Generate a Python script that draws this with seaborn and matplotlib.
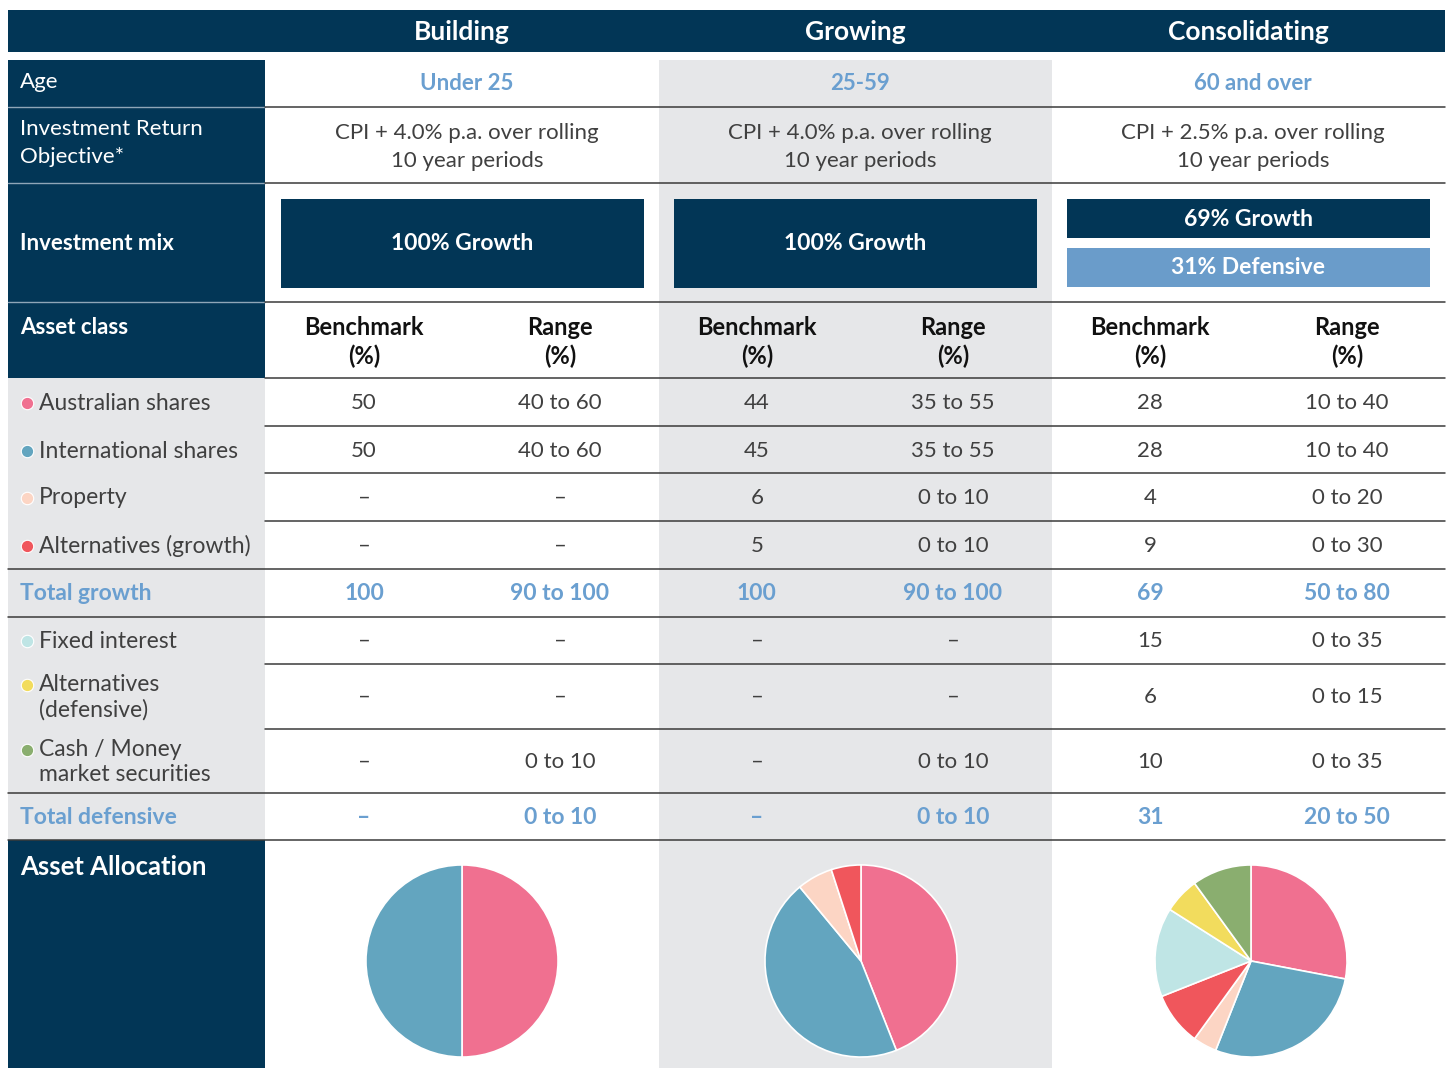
import numpy as np
import matplotlib.pyplot as plt
import matplotlib.patches as mpatches
import seaborn as sns

# Data
stages = ['Building', 'Growing', 'Consolidating']
ages = ['Under 25', '25-59', '60 and over']
objectives = ['CPI + 4.0% p.a. over rolling\n10 year periods',
              'CPI + 4.0% p.a. over rolling\n10 year periods',
              'CPI + 2.5% p.a. over rolling\n10 year periods']
growth_mix = [100, 100, 69]
defensive_mix = [0, 0, 31]

growth_assets = ['Australian shares', 'International shares', 'Property', 'Alternatives (growth)']
defensive_assets = ['Fixed interest', 'Alternatives\n(defensive)', 'Cash / Money\nmarket securities']

building_bench = [50, 50, 0, 0, 0, 0, 0]
growing_bench = [44, 45, 6, 5, 0, 0, 0]
consolidating_bench = [28, 28, 4, 9, 15, 6, 10]

building_range = ['40 to 60', '40 to 60', '–', '–', '–', '–', '0 to 10']
growing_range = ['35 to 55', '35 to 55', '0 to 10', '0 to 10', '–', '–', '0 to 10']
consolidating_range = ['10 to 40', '10 to 40', '0 to 20', '0 to 30', '0 to 35', '0 to 15', '0 to 35']

total_growth_range = ['90 to 100', '90 to 100', '50 to 80']
total_defensive_range = ['0 to 10', '0 to 10', '20 to 50']

asset_colors = ['#f07090', '#63a5bf', '#fcd5c4', '#f0565c', '#bfe5e5', '#f2dc5d', '#8aae6f']

navy = '#023656'
light_blue = '#6a9fd0'
grey_bg = '#e6e7e9'
txt = '#404040'

sns.set_style('white')
plt.rcParams['font.family'] = ['Lato', 'DejaVu Sans']

W, H = 1451, 1068
fig = plt.figure(figsize=(W / 100, H / 100), dpi=100)
ax = fig.add_axes([0, 0, 1, 1])
ax.set_xlim(0, W)
ax.set_ylim(H, 0)
ax.axis('off')

def rect(x0, y0, x1, y1, color, z=1):
    ax.add_patch(mpatches.Rectangle((x0, y0), x1 - x0, y1 - y0, facecolor=color, edgecolor='none', zorder=z))

col_centers = [462, 855, 1248]
sub_centers = [(364, 560), (757, 953), (1150, 1347)]
fs = 16

# backgrounds
rect(8, 10, 1445, 52, navy)
rect(659, 60, 1052, 1068, grey_bg)
rect(8, 60, 265, 378, navy)
rect(8, 378, 265, 840, grey_bg)
rect(8, 840, 265, 1068, navy)
for y in [107, 183, 302]:
    ax.plot([8, 265], [y, y], color='#8fa6b8', lw=1, zorder=2)

# horizontal rules
row_lines = [107, 183, 302, 378, 426, 473, 521, 569, 617, 664, 729, 793, 840]
full_width = [569, 617, 793, 840]
for y in row_lines:
    x0 = 8 if y in full_width else 265
    ax.plot([x0, 1445], [y, y], color='#3a3a3a', lw=1.1, zorder=2)

# column headers
for s, cx in zip(stages, col_centers):
    ax.text(cx, 32, s, color='white', fontsize=19, fontweight='bold', ha='center', va='center', zorder=3)

# left labels
ax.text(20, 82, 'Age', color='white', fontsize=fs, ha='left', va='center', zorder=3)
ax.text(20, 143, 'Investment Return\nObjective*', color='white', fontsize=fs, ha='left', va='center',
        linespacing=1.55, zorder=3)
ax.text(20, 244, 'Investment mix', color='white', fontsize=fs, fontweight='bold', ha='left', va='center', zorder=3)
ax.text(20, 327, 'Asset class', color='white', fontsize=fs, fontweight='bold', ha='left', va='center', zorder=3)
ax.text(20, 867, 'Asset Allocation', color='white', fontsize=18.5, fontweight='bold', ha='left', va='center', zorder=3)

# age + objective
for i, cx in enumerate(col_centers):
    ax.text(cx + 5, 84, ages[i], color=light_blue, fontsize=fs, fontweight='bold', ha='center', va='center', zorder=3)
    ax.text(cx + 5, 147, objectives[i], color=txt, fontsize=fs, ha='center', va='center',
            linespacing=1.55, zorder=3)

# investment mix boxes
for i, cx in enumerate(col_centers):
    x0, x1 = cx - 181, cx + 182
    if defensive_mix[i] == 0:
        rect(x0, 199, x1, 288, navy, 2)
        ax.text(cx, 244, f'{growth_mix[i]}% Growth', color='white', fontsize=16.5, fontweight='bold',
                ha='center', va='center', zorder=3)
    else:
        rect(x0, 199, x1, 238, navy, 2)
        rect(x0, 248, x1, 287, '#6a9cca', 2)
        ax.text(cx, 219, f'{growth_mix[i]}% Growth', color='white', fontsize=16.5, fontweight='bold',
                ha='center', va='center', zorder=3)
        ax.text(cx, 268, f'{defensive_mix[i]}% Defensive', color='white', fontsize=16.5, fontweight='bold',
                ha='center', va='center', zorder=3)

# subheaders
for bx, rx in sub_centers:
    ax.text(bx, 342, 'Benchmark\n(%)', color='#111111', fontsize=17, fontweight='bold', ha='center',
            va='center', linespacing=1.3, zorder=3)
    ax.text(rx, 342, 'Range\n(%)', color='#111111', fontsize=17, fontweight='bold', ha='center',
            va='center', linespacing=1.3, zorder=3)

# asset rows
asset_rows = [403, 451, 498, 546, 641, 697, 762]
asset_names = growth_assets + defensive_assets
benches = [building_bench, growing_bench, consolidating_bench]
ranges = [building_range, growing_range, consolidating_range]
for j, (name, y) in enumerate(zip(asset_names, asset_rows)):
    ax.scatter([27], [y if '\n' not in name else y - 12], s=80, color=asset_colors[j], edgecolor='white',
               linewidth=0.8, zorder=4)
    ax.text(39, y, name, color=txt, fontsize=16.5, ha='left', va='center',
            linespacing=1.25, zorder=3)
    for i, (bx, rx) in enumerate(sub_centers):
        b = benches[i][j]
        ax.text(bx, y, str(b) if b else '–', color=txt, fontsize=fs,
                ha='center', va='center', zorder=3)
        ax.text(rx, y, ranges[i][j], color=txt, fontsize=fs,
                ha='center', va='center', zorder=3)

# totals
ax.text(20, 594, 'Total growth', color=light_blue, fontsize=16.5, fontweight='bold', ha='left', va='center', zorder=3)
ax.text(20, 818, 'Total defensive', color=light_blue, fontsize=16.5, fontweight='bold', ha='left', va='center', zorder=3)
for i, (bx, rx) in enumerate(sub_centers):
    ax.text(bx, 594, str(growth_mix[i]), color=light_blue, fontsize=16.5, fontweight='bold', ha='center', va='center', zorder=3)
    ax.text(rx, 594, total_growth_range[i], color=light_blue, fontsize=16.5, fontweight='bold', ha='center', va='center', zorder=3)
    ax.text(bx, 818, str(defensive_mix[i]) if defensive_mix[i] else '–', color=light_blue, fontsize=16.5,
            fontweight='bold', ha='center', va='center', zorder=3)
    ax.text(rx, 818, total_defensive_range[i], color=light_blue, fontsize=16.5, fontweight='bold', ha='center', va='center', zorder=3)

# pies
pie_centers = [(462, 961), (861, 961), (1251, 961)]
r = 97
for i, (cx, cy) in enumerate(pie_centers):
    pax = fig.add_axes([(cx - r) / W, 1 - (cy + r) / H, 2 * r / W, 2 * r / H])
    vals = [v for v in benches[i] if v > 0]
    cols = [c for v, c in zip(benches[i], asset_colors) if v > 0]
    pax.pie(vals, colors=cols, startangle=90, counterclock=False, radius=1.0,
            wedgeprops=dict(edgecolor='white', linewidth=1.2))
    pax.set_xlim(-1.01, 1.01)
    pax.set_ylim(-1.01, 1.01)
    pax.set_aspect('auto')
    pax.axis('off')

fig.savefig('out.png', dpi=100)
